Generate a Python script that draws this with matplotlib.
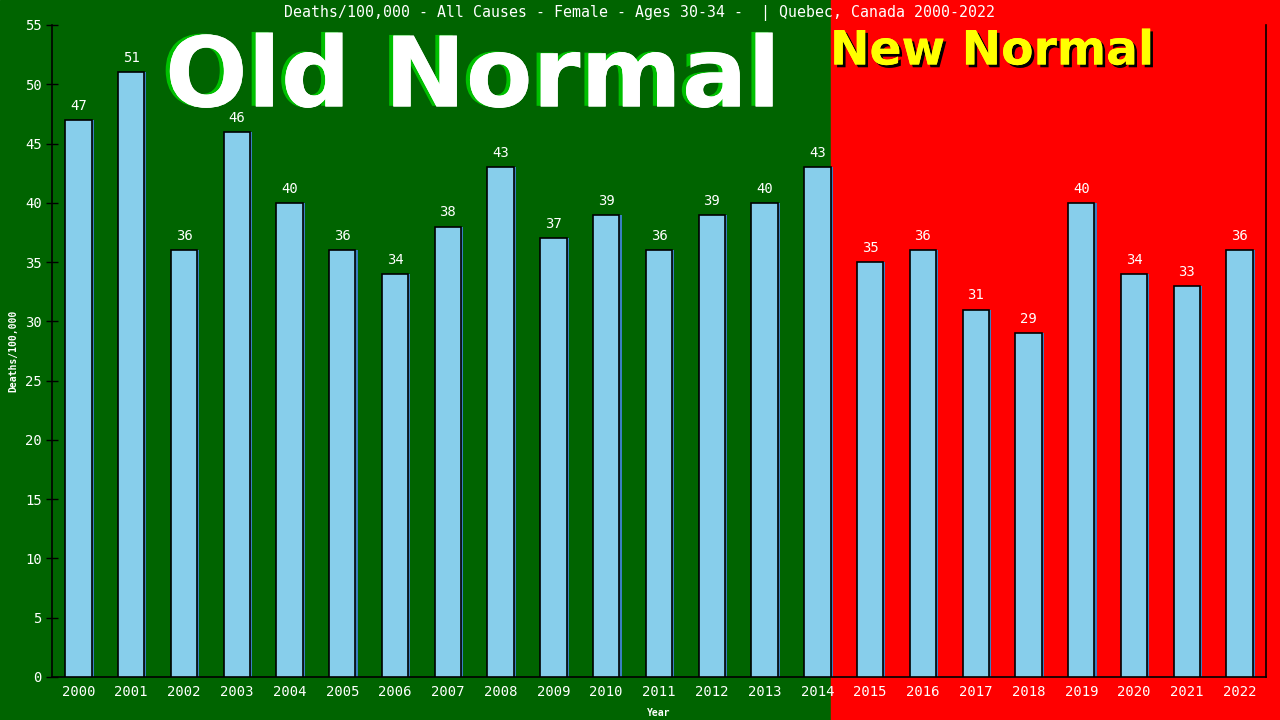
import matplotlib

matplotlib.use("Agg")
import matplotlib.patheffects as pe
import matplotlib.pyplot as plt
import numpy as np

years = [str(y) for y in range(2000, 2023)]
deaths = [47, 51, 36, 46, 40, 36, 34, 38, 43, 37, 39, 36, 39, 40, 43,
          35, 36, 31, 29, 40, 34, 33, 36]
split_year = "2014"

title = "Deaths/100,000 - All Causes - Female - Ages 30-34 -  | Quebec, Canada 2000-2022"
mono = "DejaVu Sans Mono"
green = "#006400"
red = "#ff0000"
bar_color = "#87ceeb"
bar_width = 0.5

fig = plt.figure(figsize=(12.8, 7.2), dpi=100)
ax = fig.add_axes([52 / 1280, 43 / 720, 1214 / 1280, 652 / 720])

x = np.arange(len(years))
split = years.index(split_year) + bar_width / 2
ax.set_xlim(-0.5, len(years) - 0.5)
ax.set_ylim(0, 55)

# background halves spread over the whole figure
split_fig = fig.transFigure.inverted().transform(ax.transData.transform((split, 0)))[0]
fig.patches.append(plt.Rectangle((0, 0), split_fig, 1, transform=fig.transFigure,
                                 color=green, zorder=-10))
fig.patches.append(plt.Rectangle((split_fig, 0), 1 - split_fig, 1, transform=fig.transFigure,
                                 color=red, zorder=-10))
ax.set_facecolor("none")

ax.bar(x + 0.04, deaths, width=bar_width, color="#3a7fc0", zorder=2)
ax.bar(x, deaths, width=bar_width, color=bar_color, edgecolor="black", linewidth=1.2, zorder=3)
for xi, v in zip(x, deaths):
    ax.text(xi, v + 0.6, str(v), ha="center", va="bottom", color="white",
            fontsize=10, family=mono, zorder=4)

ax.set_xticks(x)
ax.set_xticklabels(years, family=mono, fontsize=10, color="white")
ax.set_yticks(range(0, 56, 5))
ax.set_yticklabels([str(t) for t in range(0, 56, 5)], family=mono, fontsize=10, color="white")
ax.tick_params(axis="y", direction="inout", length=8, width=1, colors="black", labelcolor="white")
ax.tick_params(axis="x", length=0, labelcolor="white", pad=6)
ax.spines["top"].set_visible(False)
for s in ("left", "right", "bottom"):
    ax.spines[s].set_color("black")
    ax.spines[s].set_linewidth(1.2)

ax.set_ylabel("Deaths/100,000", family=mono, fontsize=7, fontweight="bold", color="white", labelpad=5)
ax.set_xlabel("Year", family=mono, fontsize=7, fontweight="bold", color="white", labelpad=6)

fig.text(0.5, 1 - 13 / 720, title, ha="center", va="center", family=mono, fontsize=10.7, color="white")

fig.text(165 / 1280, 1 - 80 / 720, "Old Normal", ha="left", va="center", fontsize=70,
         fontweight="bold", family="DejaVu Sans", color="white",
         path_effects=[pe.withSimplePatchShadow(offset=(-3, 0.5), shadow_rgbFace="#00c000", alpha=1),
                       pe.Normal()])
fig.text(830 / 1280, 1 - 52 / 720, "New Normal", ha="left", va="center", fontsize=34,
         fontweight="bold", family="DejaVu Sans", color="#ffff00",
         path_effects=[pe.withSimplePatchShadow(offset=(2, -2), shadow_rgbFace="black", alpha=1),
                       pe.Normal()])

fig.savefig("out.png", dpi=100)
